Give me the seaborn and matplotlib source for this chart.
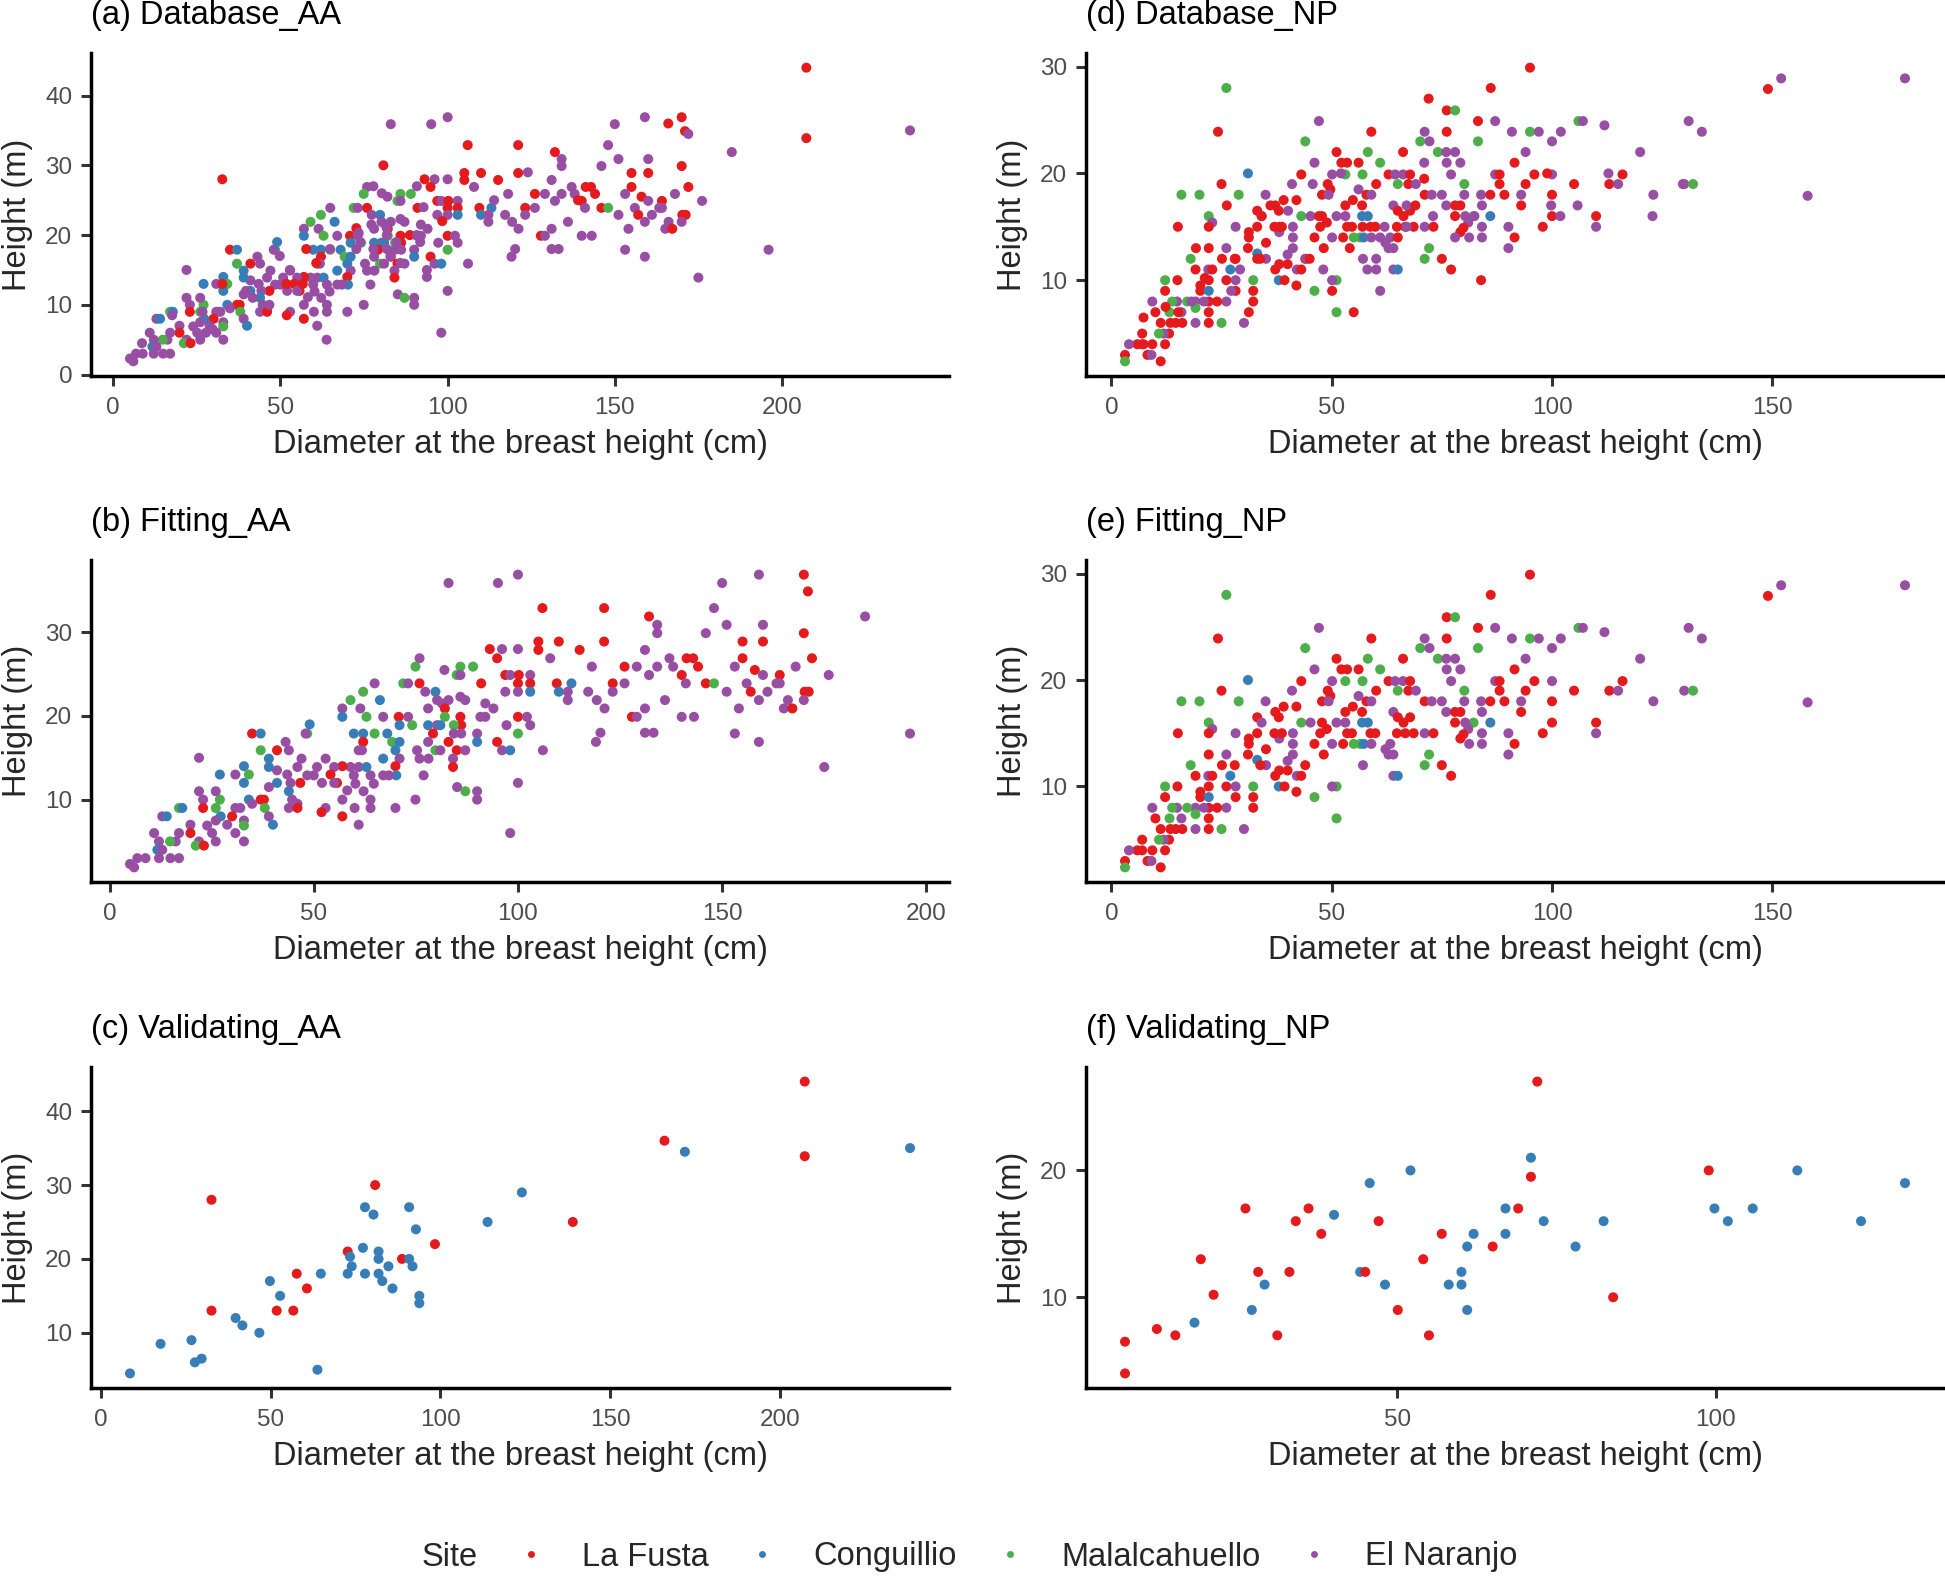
import numpy as np
import pandas as pd
import matplotlib
matplotlib.use('Agg')
import matplotlib.pyplot as plt
from matplotlib.lines import Line2D
import seaborn as sns

# sites and their colours (Set1)
sites = ['La Fusta', 'Conguillio', 'Malalcahuello', 'El Naranjo']
site_colors = ['#E41A1C', '#377EB8', '#4DAF4A', '#984EA3']
site_codes = {'F': 'La Fusta', 'C': 'Conguillio', 'M': 'Malalcahuello', 'N': 'El Naranjo'}

# ---- Fitting_AA : dbh (cm), height (m), site code ----
fit_aa_dbh = [
    83.0, 95.1, 100.0, 106.0, 105.0, 105.0, 110.0, 93.1, 96.1, 100.0,
    94.9, 107.9, 75.9, 74.9, 82.0, 85.9, 89.0, 85.0, 85.9, 96.9,
    98.1, 100.2, 103.0, 100.0, 103.0, 109.5, 91.0, 96.9, 100.0, 103.0,
    110.0, 71.9, 73.1, 75.9, 64.9, 62.1, 66.2, 59.0, 57.0, 57.0,
    61.4, 62.9, 67.0, 77.3, 79.8, 80.2, 81.4, 83.0, 82.1, 78.0,
    85.9, 87.1, 82.1, 85.9, 86.1, 84.3, 80.2, 78.0, 81.0, 70.8,
    73.1, 71.0, 74.1, 92.0, 94.0, 90.8, 92.0, 100.0, 102.2, 103.0,
    97.2, 100.0, 90.0, 90.0, 94.9, 96.1, 98.1, 106.1, 79.2, 83.0,
    84.3, 86.1, 85.0, 87.1, 84.1, 84.1, 79.8, 81.0, 78.0, 75.3,
    75.9, 78.1, 76.9, 74.9, 85.1, 87.1, 90.0, 90.0, 100.0, 98.1,
    59.8, 62.1, 64.9, 68.0, 62.1, 69.2, 71.0, 70.0, 61.0, 61.8,
    71.0, 67.0, 70.0, 70.2, 67.0, 68.4, 59.0, 61.0, 62.9, 63.9,
    64.7, 59.8, 60.2, 58.2, 57.0, 62.2, 63.9, 63.9, 60.0, 70.0,
    61.0, 57.0, 55.0, 54.1, 52.9, 50.8, 50.0, 52.0, 55.7, 55.0,
    52.9, 51.9, 57.0, 47.0, 46.0, 48.4, 46.7, 44.3, 43.5, 41.0,
    41.0, 43.9, 44.7, 46.0, 43.9, 46.0, 43.1, 41.0, 43.9, 39.0,
    39.0, 37.0, 34.9, 37.0, 48.4, 48.0, 49.0, 39.0, 37.0, 37.8,
    38.0, 39.0, 40.0, 32.9, 34.1, 32.9, 30.8, 27.0, 34.1, 34.9,
    32.0, 30.8, 32.9, 32.9, 30.8, 32.9, 30.0, 28.8, 27.2, 26.0,
    27.0, 26.0, 26.0, 23.9, 25.1, 26.0, 21.9, 21.9, 22.9, 22.9,
    19.8, 19.8, 21.9, 21.1, 23.1, 17.0, 17.8, 12.9, 14.0, 17.0,
    16.2, 14.8, 10.9, 12.1, 11.7, 12.9, 12.1, 14.9, 17.0, 8.8,
    6.8, 5.0, 6.0,
    121.1, 132.1, 134.1, 134.1, 131.1, 121.1, 115.1,
    150.0, 159.0, 170.0, 171.0, 148.0, 151.1, 160.0, 146.0, 155.0, 160.0,
    170.0, 185.0, 155.0, 172.0, 153.1, 158.0, 160.0, 164.1, 168.0, 176.1,
    156.0, 157.0, 159.0, 161.1, 163.3, 164.1, 166.1, 165.1, 167.2, 170.2,
    171.2, 170.0, 154.1, 153.1, 159.0, 175.0, 196.0, 141.3, 142.9, 144.1,
    140.1, 141.1, 146.0, 148.0, 151.1, 137.1, 138.0, 134.1, 132.1, 129.1,
    126.1, 126.1, 123.2, 123.2, 118.1, 117.2, 119.3, 121.2, 136.0, 131.1,
    127.9, 129.1, 140.1, 143.1, 120.2, 119.1, 131.1, 133.2, 113.1, 112.2,
    112.2,
]
fit_aa_h = [
    35.9, 35.9, 36.9, 32.9, 28.9, 27.9, 28.9, 28.0, 28.0, 28.0,
    26.9, 26.9, 26.9, 25.9, 25.5, 25.9, 25.9, 24.9, 24.9, 24.9,
    24.9, 24.9, 24.9, 23.9, 23.9, 23.9, 23.9, 22.9, 22.9, 22.9,
    22.9, 23.9, 23.9, 23.9, 23.9, 22.9, 21.9, 21.9, 20.9, 19.9,
    20.9, 19.9, 19.9, 22.9, 22.9, 21.9, 21.5, 21.9, 20.9, 20.9,
    22.3, 21.9, 19.9, 19.9, 18.9, 18.9, 18.9, 18.9, 18.9, 19.9,
    19.9, 18.9, 18.9, 21.5, 20.9, 19.9, 19.9, 19.9, 19.9, 18.9,
    18.9, 17.9, 17.9, 16.9, 16.9, 15.9, 15.9, 15.9, 17.9, 16.9,
    17.9, 17.9, 15.9, 15.9, 14.9, 13.9, 15.9, 15.9, 16.9, 15.9,
    14.9, 14.9, 12.9, 10.0, 11.5, 11.0, 11.0, 10.0, 12.0, 6.0,
    17.9, 17.9, 17.9, 17.9, 16.9, 16.9, 16.9, 15.9, 15.9, 15.9,
    14.9, 14.9, 14.0, 12.9, 12.9, 12.9, 13.9, 13.9, 13.9, 12.9,
    11.9, 12.9, 11.9, 11.1, 10.0, 11.0, 10.0, 9.0, 9.0, 9.0,
    7.0, 14.0, 13.9, 13.0, 14.9, 13.9, 12.9, 12.0, 12.0, 12.0,
    9.0, 8.5, 8.0, 14.9, 13.9, 12.9, 12.0, 12.0, 13.0, 13.5,
    12.0, 11.0, 10.0, 9.5, 9.0, 9.0, 16.9, 15.9, 15.9, 14.9,
    13.9, 15.9, 17.9, 17.9, 17.9, 17.9, 19.0, 11.5, 10.0, 10.0,
    9.0, 8.0, 7.0, 14.0, 13.0, 12.0, 13.0, 13.0, 10.0, 9.5,
    9.0, 9.0, 7.5, 6.9, 6.0, 5.0, 8.0, 7.0, 8.0, 7.5,
    10.0, 11.0, 9.0, 6.9, 6.0, 5.0, 15.0, 11.0, 10.0, 9.0,
    7.0, 6.0, 5.0, 4.5, 4.5, 9.0, 9.0, 8.0, 8.0, 6.0,
    5.0, 5.0, 6.0, 5.0, 4.0, 4.0, 3.0, 3.0, 3.0, 3.0,
    3.0, 2.3, 1.9,
    32.9, 31.9, 30.9, 29.9, 27.9, 28.9, 27.9,
    35.9, 36.9, 36.9, 34.9, 32.9, 30.9, 30.9, 29.9, 28.9, 28.9,
    29.9, 31.9, 26.9, 26.9, 25.9, 25.5, 24.9, 24.9, 25.9, 24.9,
    23.9, 22.9, 21.9, 22.9, 23.9, 23.9, 21.9, 20.9, 20.9, 22.9,
    22.9, 21.9, 20.9, 17.9, 16.9, 13.9, 17.9, 26.9, 26.9, 25.9,
    24.9, 23.9, 23.9, 23.9, 22.9, 26.9, 25.9, 25.9, 24.9, 25.9,
    25.9, 23.9, 23.9, 22.9, 25.9, 22.9, 21.9, 20.9, 21.9, 20.9,
    19.9, 19.9, 19.9, 19.9, 18.0, 16.9, 18.0, 18.0, 23.9, 22.9,
    21.9,
]
fit_aa_site = (
    "NNNFFFFFNN" "FNNMNMMMNF" "NFNFFFFNNC" "CMNFNMCMNC" "NMNNCNNNFN"
    "NNMFFMNCCF" "NCMNNNNFNN" "NMNCFNCNFF" "NNFNNFMNNN" "NNNNNMNNNN"
    "CCMCFMCCNN" "NCFCNNNNCN" "NNNNNNNNNN" "NFNFNNNNFN" "NFFNNNFNNN"
    "CCNNNFNFNC" "CMFCMNCNFF" "MNCCMCNCCN" "NNNMNNFNCN" "MNMNNNNNNF"
    "NFNMFMCNCN" "NMNNCNNNNN" "NNN"
    "FFNNNFF"
    "NNFFNNNNFF" "FNFFNFNFNN" "NFNNNNNNFF" "FNNNNNNFFF" "FNFMNNNNNN"
    "FNFNNNNNNN" "FNNNNNNNCN" "N"
)

# ---- Validating_AA ----
val_aa_dbh = [
    207.3, 166.0, 172.0, 207.3, 238.3, 80.8, 32.6, 124.0, 77.8, 80.3,
    90.8, 92.8, 113.9, 139.0, 98.4, 72.7, 77.2, 73.4, 73.9, 72.7,
    77.8, 81.8, 81.8, 81.8, 82.9, 84.7, 88.7, 90.8, 91.8, 85.9,
    93.8, 93.8, 57.7, 64.8, 49.8, 60.7, 52.8, 32.6, 51.8, 56.7,
    39.7, 41.7, 46.7, 17.6, 26.7, 27.7, 29.7, 8.6, 63.8,
]
val_aa_h = [
    44.0, 36.0, 34.5, 33.9, 35.0, 30.0, 28.0, 29.0, 27.0, 26.0,
    27.0, 24.0, 25.0, 25.0, 22.0, 21.0, 21.5, 20.3, 19.0, 18.0,
    18.0, 21.0, 20.0, 18.0, 17.0, 19.0, 20.0, 20.0, 19.0, 16.0,
    15.0, 14.0, 18.0, 18.0, 17.0, 16.0, 15.0, 13.0, 13.0, 13.0,
    12.0, 11.0, 10.0, 8.5, 9.0, 6.0, 6.5, 4.5, 5.0,
]
val_aa_site = "FFCFCFFCCC" "CCCFFFCCCC" "CCCCCCFCCC" "CCFCCFCFFF" "CCCCCCCCC"

# ---- Fitting_NP ----
fit_np_dbh = [
    26.1, 24.2, 47.1, 44.0, 86.1, 76.1, 78.0, 83.2, 87.1, 90.9,
    71.1, 76.1, 70.1, 72.2, 83.2, 74.1, 76.0, 78.0, 76.1, 79.2,
    77.1, 59.0, 51.1, 52.2, 53.5, 56.1, 58.2, 61.0, 66.2, 46.1,
    43.1, 50.1, 53.1, 57.0, 62.9, 64.4, 66.2, 67.8, 65.0, 67.4,
    69.1, 60.1, 56.1, 49.1, 49.7, 47.8, 49.3, 41.0, 25.0, 15.9,
    20.0, 28.9, 35.0, 37.2, 39.1, 42.0, 33.1, 38.0, 34.1, 57.9,
    59.0, 71.1, 72.7, 75.0, 80.1, 83.9, 86.0, 89.2, 80.1, 88.1,
    87.1, 88.1, 91.5, 54.8, 53.1, 56.9, 64.0, 76.0, 78.0, 79.2,
    84.1, 67.8, 65.0, 66.3, 78.0, 82.2, 80.3, 86.0, 51.1, 53.1,
    47.8, 43.1, 45.2, 56.9, 58.2, 58.8, 59.9, 53.5, 54.6, 47.4,
    48.9, 64.8, 66.7, 68.6, 71.1, 73.1, 81.0, 79.9, 79.2, 84.1,
    90.1, 91.5, 81.2, 84.1, 90.1, 72.1, 71.1, 75.0, 77.1, 64.0,
    65.0, 50.1, 52.6, 55.0, 56.5, 57.3, 59.0, 62.2, 63.3, 64.0,
    62.9, 57.1, 46.1, 48.2, 51.1, 50.1, 51.1, 46.1, 42.0, 44.0,
    42.1, 43.1, 38.0, 39.3, 37.2, 38.1, 40.0, 40.0, 41.2, 41.2,
    41.2, 38.1, 38.7, 37.0, 35.1, 33.1, 31.2, 31.2, 31.0, 33.1,
    35.1, 33.8, 28.2, 26.1, 28.0, 25.1, 27.0, 26.1, 28.2, 28.2,
    32.2, 32.2, 32.2, 30.1, 25.0, 22.1, 19.1, 22.1, 22.1, 26.1,
    24.0, 21.0, 19.1, 19.1, 17.2, 14.9, 13.8, 15.9, 16.1, 13.2,
    10.0, 9.3, 11.2, 13.4, 14.6, 13.1, 11.9, 10.8, 7.0, 7.0,
    5.9, 4.0, 9.3, 12.2, 8.2, 9.1, 11.2, 3.1, 3.1, 22.1,
    22.9, 22.1, 15.1, 22.1, 19.1, 18.0, 22.0, 22.9, 15.0, 12.2,
    12.2, 20.2, 20.2, 22.1, 22.1, 31.0, 95.0, 149.0, 152.0, 180.1,
    158.0, 106.0, 107.0, 111.9, 131.0, 134.0, 95.0, 97.0, 102.0, 100.0,
    94.0, 120.0, 96.0, 100.0, 116.0, 94.0, 105.0, 113.0, 115.0, 130.0,
    132.0, 93.0, 100.0, 123.0, 93.0, 100.0, 110.0, 97.9, 110.0,
]
fit_np_h = [
    28.0, 23.9, 24.9, 23.0, 28.0, 25.9, 25.9, 24.9, 24.9, 23.9,
    23.9, 23.9, 23.0, 23.0, 23.0, 22.0, 22.0, 22.0, 21.0, 21.0,
    19.9, 23.9, 22.0, 21.0, 21.0, 21.0, 22.0, 21.0, 22.0, 21.0,
    19.9, 19.9, 19.9, 19.9, 19.9, 19.9, 19.9, 19.9, 19.0, 19.0,
    19.0, 19.0, 18.5, 19.0, 18.5, 18.0, 18.0, 19.0, 19.0, 18.0,
    18.0, 18.0, 18.0, 17.0, 17.5, 17.5, 16.5, 16.5, 16.0, 18.0,
    18.0, 18.0, 18.0, 18.0, 18.0, 18.0, 18.0, 18.0, 19.0, 19.0,
    19.9, 19.9, 21.0, 17.5, 17.0, 17.0, 17.0, 17.0, 17.0, 17.0,
    17.0, 16.5, 16.5, 16.0, 16.0, 16.0, 16.0, 16.0, 16.0, 16.0,
    16.0, 16.0, 16.0, 16.0, 16.0, 15.0, 15.0, 15.0, 15.0, 15.0,
    15.4, 15.0, 15.0, 15.0, 15.0, 15.0, 15.4, 14.9, 14.5, 15.0,
    15.0, 14.0, 14.0, 14.0, 13.0, 13.0, 12.0, 12.0, 11.0, 11.0,
    11.0, 14.0, 14.0, 14.0, 14.0, 14.0, 14.0, 13.5, 14.0, 13.0,
    13.0, 12.0, 14.0, 13.0, 10.0, 10.0, 7.0, 9.0, 9.5, 12.0,
    11.0, 11.0, 10.0, 10.0, 11.0, 11.5, 11.5, 12.4, 13.0, 14.0,
    15.0, 14.5, 15.0, 15.0, 13.5, 15.0, 14.5, 14.0, 13.0, 12.5,
    12.0, 12.0, 15.0, 13.0, 12.0, 12.0, 11.0, 10.0, 10.0, 9.0,
    10.0, 9.0, 8.0, 6.0, 6.0, 6.0, 6.0, 7.0, 8.0, 8.0,
    8.0, 8.0, 8.0, 7.4, 8.0, 8.0, 8.0, 7.0, 6.0, 7.0,
    7.0, 8.0, 6.0, 6.0, 6.0, 5.0, 5.0, 5.0, 5.0, 4.0,
    4.0, 4.0, 4.0, 4.0, 3.0, 3.0, 2.4, 3.0, 2.4, 16.0,
    15.4, 15.0, 15.0, 13.0, 11.0, 12.0, 11.0, 11.0, 10.0, 10.0,
    9.0, 9.5, 9.0, 9.0, 10.0, 20.0, 29.9, 27.9, 28.9, 28.9,
    17.9, 24.9, 24.9, 24.5, 24.9, 23.9, 23.9, 23.9, 23.9, 23.0,
    22.0, 22.0, 19.9, 19.9, 19.9, 19.0, 19.0, 19.0, 19.0, 19.0,
    19.0, 18.0, 18.0, 18.0, 17.0, 16.0, 16.0, 15.0, 15.0,
]
fit_np_site = (
    "MFNMFFMFNN" "NFMNMMNNNN" "NFFFFFMMFN" "FNMMFNNFMF" "NFNFFFNNFM"
    "MMNFFFFFNF" "NFNNNNFFMF" "NFFFFFNNFF" "NFFFFMNCNN" "FMNCCFFFFF"
    "FFFFNFNFFN" "NFNNNMMFFN" "CNFMMCNNNN" "NNFFMNMMFF" "NFCFFFFNNN"
    "NNFFFFFFFC" "NFNNFFCFNF" "MFFNMFNFFN" "FNNMMNMNFM" "FNFFFFNMFF"
    "FNFFFNFFMM" "NFFFFMNFFM" "FFFCFCFFNN" "NMNNNNMNNN" "NNFNFFFFNN"
    "MNFNFFFFN"
)

# ---- Validating_NP ----
val_np_dbh = [
    72.0, 71.0, 71.0, 52.1, 45.7, 98.9, 112.8, 129.7, 26.2, 36.1,
    34.1, 40.1, 38.1, 47.1, 57.0, 62.0, 67.0, 67.0, 69.0, 73.0,
    82.4, 61.0, 65.0, 78.0, 99.8, 101.9, 105.8, 122.8, 54.1, 60.1,
    58.1, 60.1, 61.0, 44.2, 45.0, 48.1, 50.1, 55.0, 83.9, 19.2,
    28.2, 33.1, 29.2, 21.2, 27.2, 18.2, 12.3, 15.2, 31.2, 7.3,
    7.3,
]
val_np_h = [
    27.0, 21.0, 19.5, 20.0, 19.0, 20.0, 20.0, 19.0, 17.0, 17.0,
    16.0, 16.5, 15.0, 16.0, 15.0, 15.0, 15.0, 17.0, 17.0, 16.0,
    16.0, 14.0, 14.0, 14.0, 17.0, 16.0, 17.0, 16.0, 13.0, 12.0,
    11.0, 11.0, 9.0, 12.0, 12.0, 11.0, 9.0, 7.0, 10.0, 13.0,
    12.0, 12.0, 11.0, 10.2, 9.0, 8.0, 7.5, 7.0, 7.0, 6.5,
    4.0,
]
val_np_site = "FCFCCFCCFF" "FCFFFCCCFC" "CCFCCCCCFC" "CCCCFCFFFF" "FFCFCCFFFF" "F"

FIG_W, FIG_H = 1945, 1591
TITLE_SIZE = 23.5
TICK_SIZE = 17.5


def make_frame(dbh, h, codes):
    assert len(dbh) == len(h) == len(codes)
    return pd.DataFrame({'dbh': dbh, 'height': h,
                         'site': [site_codes[c] for c in codes]})


def style_axis(ax, title, xticks, yticks, ax_w, ax_h):
    ax.set_xticks(xticks)
    ax.set_yticks(yticks)
    for side in ['top', 'right']:
        ax.spines[side].set_visible(False)
    for side in ['left', 'bottom']:
        ax.spines[side].set_linewidth(2.5)
        ax.spines[side].set_color('black')
    ax.tick_params(length=7.5, width=2.2, color='#333333', labelsize=TICK_SIZE,
                   labelcolor='#4D4D4D', pad=6)
    ax.tick_params(axis='x', pad=7.5)
    ax.set_xlabel('Diameter at the breast height (cm)', fontsize=TITLE_SIZE, va='center')
    ax.set_ylabel('Height (m)', fontsize=TITLE_SIZE, va='center')
    ax.xaxis.set_label_coords(0.5, -68 / ax_h)
    ax.yaxis.set_label_coords(-74 / ax_w, 0.5)
    ax.annotate(title, xy=(0, 1), xycoords='axes fraction', xytext=(0, 21),
                textcoords='offset points', ha='left', va='baseline',
                fontsize=TITLE_SIZE, color='black')


fit_aa = make_frame(fit_aa_dbh, fit_aa_h, fit_aa_site)
val_aa = make_frame(val_aa_dbh, val_aa_h, val_aa_site)
fit_np = make_frame(fit_np_dbh, fit_np_h, fit_np_site)
val_np = make_frame(val_np_dbh, val_np_h, val_np_site)

# in the database panels the validating Conguillio trees show up in the El Naranjo colour
relabel = {'site': {'Conguillio': 'El Naranjo'}}
db_aa = pd.concat([fit_aa, val_aa.replace(relabel)], ignore_index=True)
db_np = pd.concat([fit_np, val_np.replace(relabel)], ignore_index=True)

sns.set_style('ticks')
plt.rcParams['font.family'] = ['Liberation Sans', 'DejaVu Sans']

fig = plt.figure(figsize=(FIG_W / 100, FIG_H / 100), dpi=100)

# axes boxes in pixels: left, top, right, bottom
cols = [(91, 949), (1086, 1944)]
rows = [(53, 376), (560, 882), (1067, 1388)]

panels = [
    (0, 0, db_aa, '(a) Database_AA', [0, 50, 100, 150, 200], [0, 10, 20, 30, 40]),
    (0, 1, fit_aa, '(b) Fitting_AA', [0, 50, 100, 150, 200], [10, 20, 30]),
    (0, 2, val_aa, '(c) Validating_AA', [0, 50, 100, 150, 200], [10, 20, 30, 40]),
    (1, 0, db_np, '(d) Database_NP', [0, 50, 100, 150], [10, 20, 30]),
    (1, 1, fit_np, '(e) Fitting_NP', [0, 50, 100, 150], [10, 20, 30]),
    (1, 2, val_np, '(f) Validating_NP', [50, 100], [10, 20]),
]

for ci, ri, df, title, xt, yt in panels:
    x0, x1 = cols[ci]
    y0, y1 = rows[ri]
    ax_w, ax_h = x1 - x0, y1 - y0
    ax = fig.add_axes([x0 / FIG_W, 1 - y1 / FIG_H, ax_w / FIG_W, ax_h / FIG_H])
    sns.scatterplot(data=df, x='dbh', y='height', hue='site', hue_order=sites,
                    palette=site_colors, s=52, linewidth=0, ax=ax, legend=False)
    style_axis(ax, title, xt, yt, ax_w, ax_h)

# legend along the bottom
leg_y = 1 - 1557 / FIG_H
fig.text(422 / FIG_W, leg_y, 'Site', ha='left', va='center', fontsize=TITLE_SIZE)
handles = [Line2D([], [], marker='o', linestyle='', markersize=5,
                  markerfacecolor=c, markeredgewidth=0) for c in site_colors]
fig.legend(handles, sites, loc='center left', bbox_to_anchor=(518 / FIG_W, leg_y),
           ncol=4, frameon=False, fontsize=TITLE_SIZE, handlelength=0.8,
           handletextpad=1.17, columnspacing=1.23, borderpad=0, borderaxespad=0)

fig.savefig('out.png', dpi=100, facecolor='white')
